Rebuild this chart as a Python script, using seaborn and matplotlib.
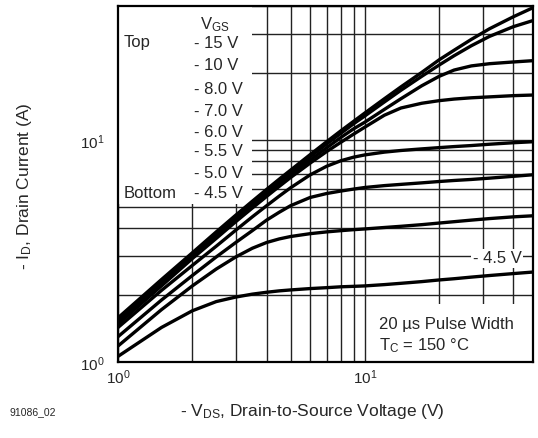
import numpy as np
import pandas as pd
import matplotlib
matplotlib.use("Agg")
import matplotlib.pyplot as plt
import seaborn as sns
from matplotlib.ticker import LogLocator, NullFormatter, FixedLocator
from matplotlib.patches import Rectangle

# ---- data ----
vds = [1, 1.5, 2, 2.5, 3, 3.5, 4, 4.5, 5, 6, 7, 8, 9, 10, 12, 14, 17, 20, 23, 27, 32, 40, 48]
id_15v = [1.58, 2.35, 3.1, 3.85, 4.58, 5.29, 5.98, 6.65, 7.3, 8.57, 9.8, 10.98, 12.1, 13.2,
          15.3, 17.3, 20.1, 22.9, 25.3, 28.3, 31.6, 35.8, 39.3]
id_10v = [1.55, 2.3, 3.04, 3.77, 4.48, 5.18, 5.85, 6.5, 7.14, 8.38, 9.57, 10.7, 11.8, 12.8,
          14.8, 16.7, 19.3, 21.7, 23.9, 26.5, 29.2, 32.3, 34.4]
id_8v = [1.52, 2.26, 2.98, 3.7, 4.38, 5.06, 5.72, 6.36, 6.98, 8.1, 9.2, 10.25, 11.2, 12.0,
         13.7, 15.3, 17.5, 19.3, 20.6, 21.5, 22.0, 22.4, 22.7]
id_7v = [1.48, 2.2, 2.92, 3.6, 4.28, 4.93, 5.56, 6.17, 6.76, 7.85, 8.85, 9.75, 10.6, 11.4,
         12.9, 13.9, 14.6, 15.0, 15.25, 15.45, 15.6, 15.8, 15.9]
id_6v = [1.43, 2.1, 2.72, 3.32, 3.92, 4.5, 5.05, 5.58, 6.08, 6.95, 7.6, 8.05, 8.35, 8.55,
         8.8, 8.95, 9.1, 9.22, 9.32, 9.42, 9.55, 9.7, 9.8]
id_55v = [1.3, 1.9, 2.45, 2.97, 3.45, 3.9, 4.35, 4.72, 5.05, 5.5, 5.73, 5.88, 6.0, 6.1,
          6.22, 6.3, 6.4, 6.49, 6.56, 6.63, 6.72, 6.85, 6.96]
id_5v = [1.18, 1.72, 2.2, 2.62, 2.97, 3.25, 3.45, 3.58, 3.67, 3.78, 3.85, 3.9, 3.94, 3.97,
         4.03, 4.08, 4.15, 4.22, 4.28, 4.35, 4.42, 4.5, 4.55]
id_45v = [1.06, 1.43, 1.7, 1.87, 1.96, 2.02, 2.06, 2.09, 2.11, 2.14, 2.16, 2.18, 2.19, 2.2,
          2.23, 2.26, 2.3, 2.34, 2.37, 2.41, 2.45, 2.5, 2.54]

vgs_labels = ["- 15 V", "- 10 V", "- 8.0 V", "- 7.0 V", "- 6.0 V", "- 5.5 V", "- 5.0 V", "- 4.5 V"]
series = [id_15v, id_10v, id_8v, id_7v, id_6v, id_55v, id_5v, id_45v]

rows = []
for lab, ys in zip(vgs_labels, series):
    for x, y in zip(vds, ys):
        rows.append({"VDS": x, "ID": y, "VGS": lab})
df = pd.DataFrame(rows)

# ---- style ----
sns.set_style("white")
plt.rcParams['font.family'] = ['Liberation Sans', 'DejaVu Sans']
plt.rcParams['mathtext.fontset'] = 'custom'
plt.rcParams['mathtext.rm'] = 'Liberation Sans'
plt.rcParams['mathtext.it'] = 'Liberation Sans:italic'
plt.rcParams['mathtext.bf'] = 'Liberation Sans:bold'
plt.rcParams['mathtext.sf'] = 'Liberation Sans'

W, H = 538, 439
L, R, T, B = 118, 533, 7, 363
fig = plt.figure(figsize=(W / 100, H / 100), dpi=100)
ax = fig.add_axes([L / W, 1 - B / H, (R - L) / W, (B - T) / H])

sns.lineplot(data=df, x="VDS", y="ID", hue="VGS", hue_order=vgs_labels,
             palette=["black"] * len(vgs_labels), estimator=None, sort=False,
             legend=False, lw=2.4, ax=ax, zorder=4)
for ln in ax.get_lines():
    ln.set_solid_joinstyle("round")
    ln.set_solid_capstyle("butt")

ax.set_xscale("log")
ax.set_yscale("log")
ax.set_xlim(1, 48)
ax.set_ylim(1, 40)

ax.xaxis.set_major_locator(FixedLocator([1, 10]))
ax.yaxis.set_major_locator(FixedLocator([1, 10]))
ax.xaxis.set_minor_locator(LogLocator(base=10, subs=np.arange(2, 10)))
ax.yaxis.set_minor_locator(LogLocator(base=10, subs=np.arange(2, 10)))
ax.xaxis.set_minor_formatter(NullFormatter())
ax.yaxis.set_minor_formatter(NullFormatter())
ax.set_axisbelow(True)
ax.grid(which="both", color="#222222", lw=1.0)
ax.tick_params(which="both", length=0, labelsize=11)
ax.tick_params(axis="x", pad=4)
ax.tick_params(axis="y", pad=10)

for s in ax.spines.values():
    s.set_visible(True)
    s.set_color("black")
    s.set_linewidth(1.6)
    s.set_zorder(5)

def axp(px, py):
    return ((px - L) / (R - L), (B - py) / (B - T))

# white backgrounds that hide the grid behind the text blocks
x0, y0 = axp(L, 205)
x1, _ = axp(252, 205)
ax.add_patch(Rectangle((x0, y0), x1 - x0, 1 - y0, transform=ax.transAxes,
                       facecolor="white", edgecolor="none", zorder=2.5))
bx0, by1 = axp(372, 305)
ax.add_patch(Rectangle((bx0, 0), 1 - bx0, by1, transform=ax.transAxes,
                       facecolor="white", edgecolor="none", zorder=2.5))

fs = 12
ax.text(*axp(215, 25), r"V$_{\rm GS}$", ha="center", va="center", fontsize=fs,
        transform=ax.transAxes, zorder=6)
ax.text(*axp(124, 43), "Top", ha="left", va="center", fontsize=fs,
        transform=ax.transAxes, zorder=6)
ax.text(*axp(124, 194), "Bottom", ha="left", va="center", fontsize=fs,
        transform=ax.transAxes, zorder=6)
label_y = [43, 66, 89, 111, 133, 152, 174, 194]
for lab, py in zip(vgs_labels, label_y):
    ax.text(*axp(194, py), lab, ha="left", va="center", fontsize=fs,
            transform=ax.transAxes, zorder=6)

ax.text(*axp(497, 259), "- 4.5 V", ha="center", va="center", fontsize=fs,
        transform=ax.transAxes, zorder=6,
        bbox=dict(facecolor="white", edgecolor="none", pad=1.5))

ax.text(*axp(379, 325), "20 \u00b5s Pulse Width", ha="left", va="center",
        fontsize=fs, transform=ax.transAxes, zorder=6)
ax.text(*axp(379, 346), r"T$_{\rm C}$ = 150 °C", ha="left", va="center",
        fontsize=fs, transform=ax.transAxes, zorder=6)

ax.set_xlabel(r"- V$_{\rm DS}$, Drain-to-Source Voltage (V)", fontsize=12.5)
ax.set_ylabel(r"- I$_{\rm D}$, Drain Current (A)", fontsize=12.5)
ax.xaxis.set_label_coords(*axp(312, 412))
ax.xaxis.label.set_va("center")
ax.yaxis.set_label_coords(*axp(25, 186))
ax.yaxis.label.set_va("center")

fig.text(10 / W, 1 - 412 / H, "91086_02", fontsize=7.5, va="center", ha="left")

fig.savefig("out.png", dpi=100)
